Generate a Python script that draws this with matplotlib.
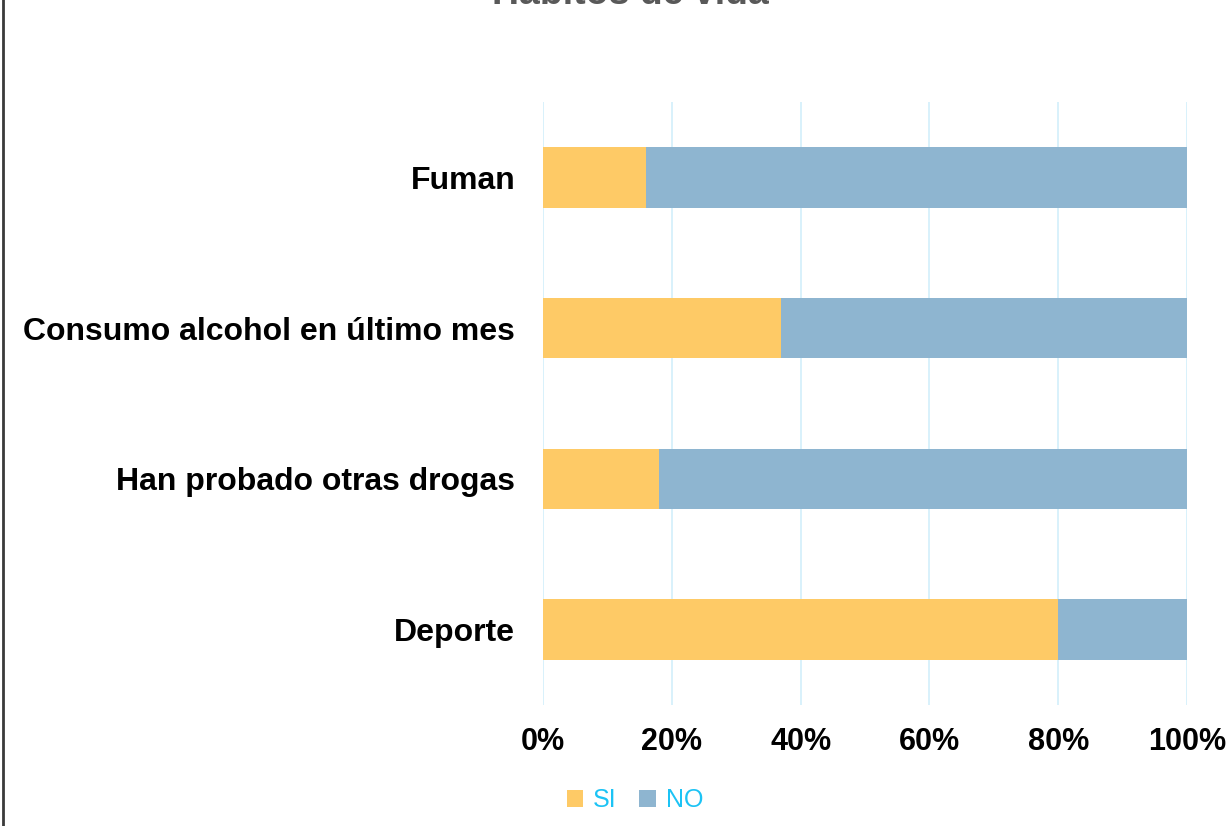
import matplotlib

matplotlib.use("Agg")
import matplotlib.pyplot as plt
from matplotlib.lines import Line2D
from matplotlib.patches import Patch

plt.rcParams["font.family"] = ["Liberation Sans", "DejaVu Sans"]

# Hábitos de vida: share answering SI / NO (percent)
CATEGORIES = ["Fuman", "Consumo alcohol en último mes", "Han probado otras drogas", "Deporte"]
SI = [16, 37, 18, 80]
NO = [84, 63, 82, 20]
XTICKS = [0, 20, 40, 60, 80, 100]
XTICK_LABELS = ["0%", "20%", "40%", "60%", "80%", "100%"]

SI_COLOR = "#FECA66"
NO_COLOR = "#8EB5D0"
GRID_COLOR = "#D6F0FB"
LEGEND_TEXT = "#1CC3F5"

fig = plt.figure(figsize=(12.26, 8.26), dpi=100)
ax = fig.add_axes([543 / 1226, 121 / 826, 644 / 1226, 603 / 826])

ypos = list(range(len(CATEGORIES)))
ax.barh(ypos, SI, height=0.4, color=SI_COLOR, linewidth=0, zorder=2)
ax.barh(ypos, NO, left=SI, height=0.4, color=NO_COLOR, linewidth=0, zorder=2)

ax.set_xlim(0, 100)
ax.set_ylim(len(CATEGORIES) - 0.5, -0.5)
ax.set_yticks(ypos)
ax.set_yticklabels(CATEGORIES, fontsize=23, fontweight="bold")
ax.set_xticks(XTICKS)
ax.set_xticklabels(XTICK_LABELS, fontsize=22, fontweight="bold")
ax.tick_params(axis="both", length=0)
ax.tick_params(axis="y", pad=20)
ax.tick_params(axis="x", pad=16)
ax.grid(axis="x", color=GRID_COLOR, linewidth=1.3, zorder=0)
ax.set_axisbelow(True)
for s in ax.spines.values():
    s.set_visible(False)

handles = [Patch(facecolor=SI_COLOR, edgecolor="none"), Patch(facecolor=NO_COLOR, edgecolor="none")]
leg = fig.legend(handles, ["SI", "NO"], loc="center", bbox_to_anchor=(635 / 1226, 1 - 800 / 826),
                 ncol=2, frameon=False, fontsize=18, handlelength=0.65, handleheight=0.65,
                 handletextpad=0.4, columnspacing=0.9)
for t in leg.get_texts():
    t.set_color(LEGEND_TEXT)

# title sits mostly above the visible frame
fig.text(630 / 1226, 1 - 4 / 826, "Hábitos de vida", ha="center", va="baseline",
         fontsize=27, fontweight="bold", color="#595959")

fig.add_artist(Line2D([2.5 / 1226, 2.5 / 1226], [0, 1], transform=fig.transFigure,
                      color="#3a3a3a", linewidth=2))

fig.savefig("out.png", dpi=100)
